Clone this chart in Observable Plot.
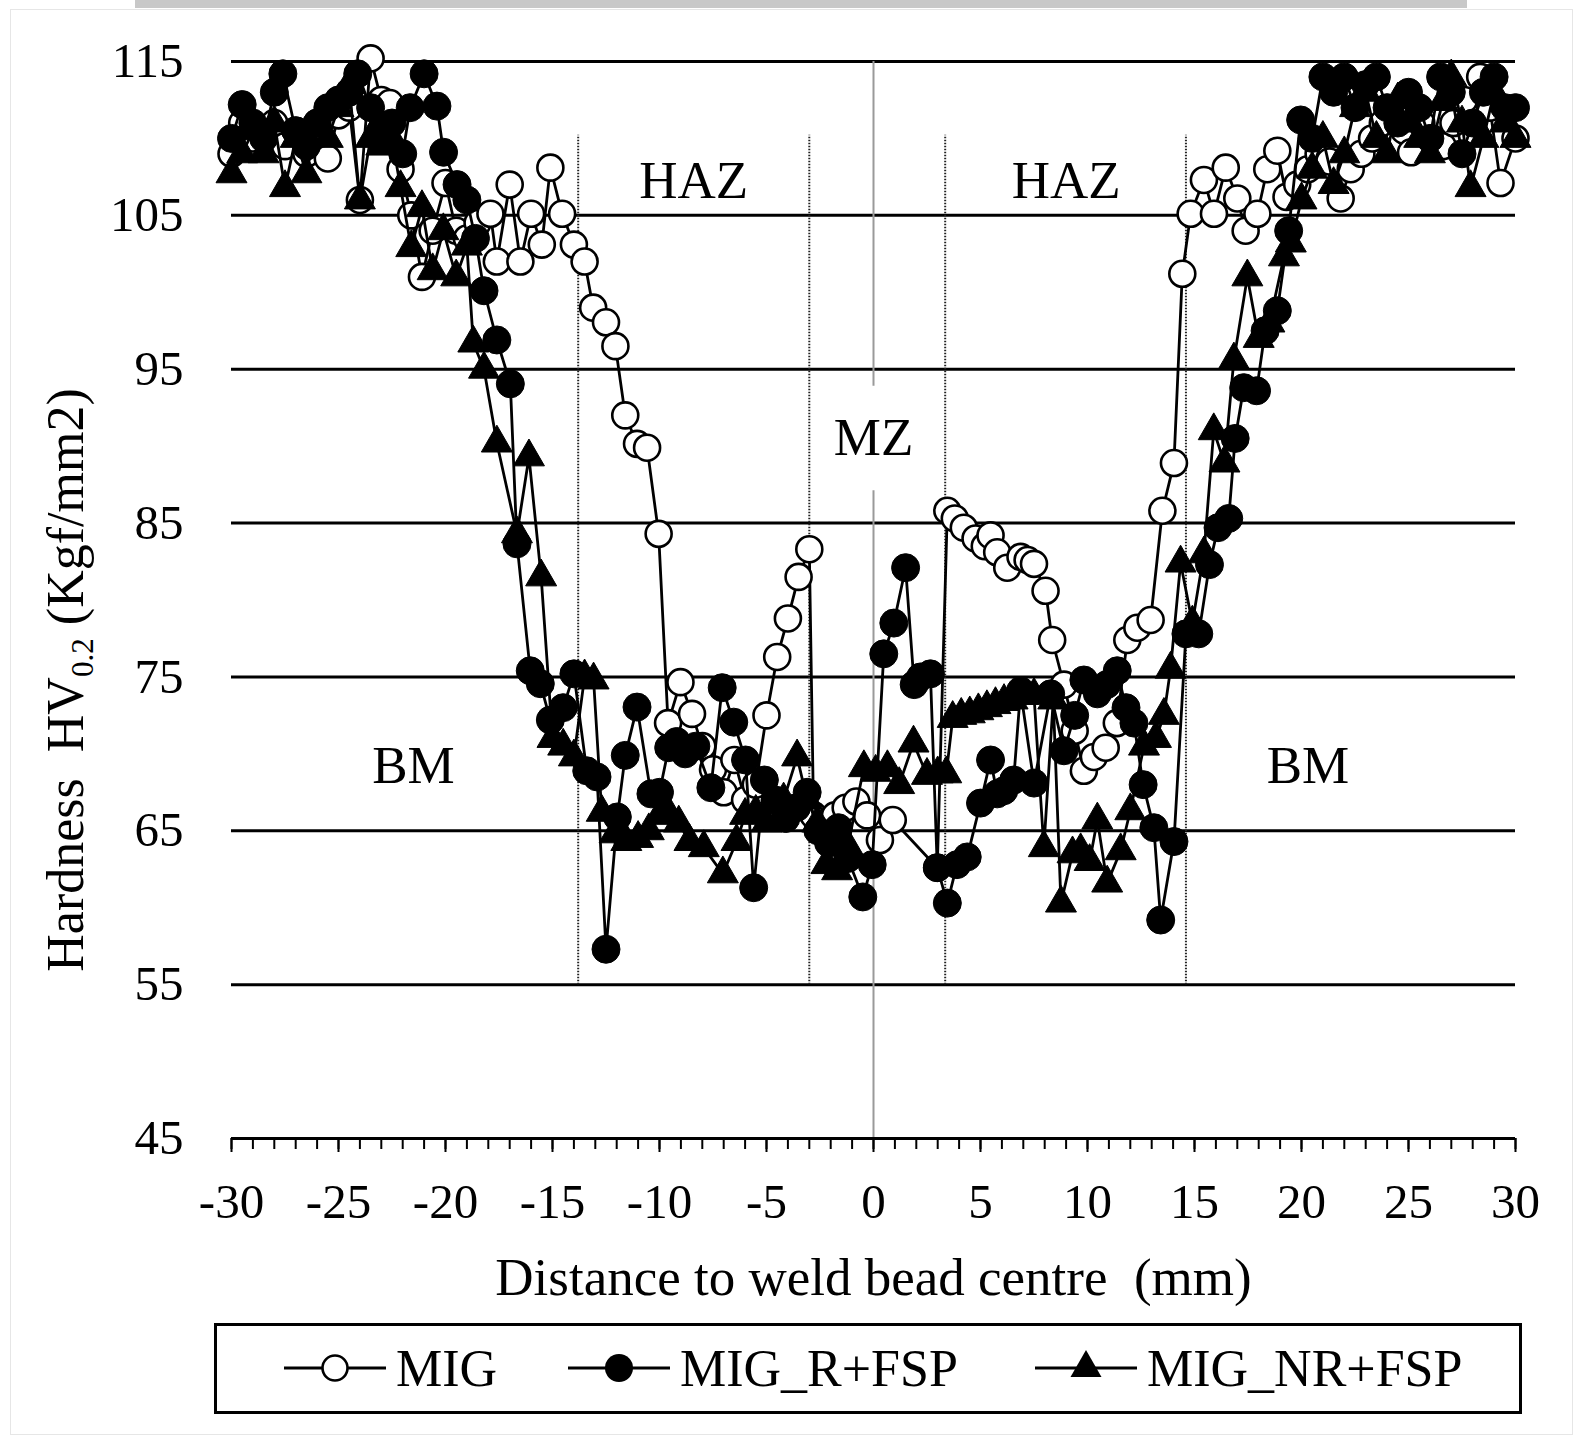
<!DOCTYPE html>
<html><head><meta charset="utf-8">
<script src="https://cdn.jsdelivr.net/npm/d3@7"></script>
<script src="https://cdn.jsdelivr.net/npm/@observablehq/plot@0.6"></script>
<style>
body{margin:0;background:#fff;}
#wrap{position:relative;width:1591px;height:1441px;overflow:hidden;background:#fff;font-family:"Liberation Serif","Times New Roman",serif;}
#topbar{position:absolute;left:135px;top:0;width:1332px;height:8px;background:#c8c8c8;}
#frame{position:absolute;left:10px;top:9px;width:1561px;height:1424px;border:1px solid #e6e6e6;}
#chart{position:absolute;left:0;top:0;}
#legend{position:absolute;left:214px;top:1323px;width:1302px;height:85px;border:3px solid #000;}
svg text{white-space:pre;}
</style></head><body>
<div id="wrap"><div id="topbar"></div><div id="frame"></div><div id="chart"></div><div id="legend"></div></div>
<script>
// ---- data (distance mm, hardness HV0.2) ----
const seriesNames = ["MIG", "MIG_R+FSP", "MIG_NR+FSP"];
const migPoints = [[-30,109],[-29.5,111],[-29,110],[-28.5,110.5],[-28,111],[-27.5,109.5],[-27,110.5],[-26.5,109],[-26,111],[-25.5,108.7],[-25,111.5],[-24.5,112],[-24,106],[-23.5,115.2],[-23,112.5],[-22.6,112.3],[-22.1,108],[-21.6,105],[-21.1,101],[-20.6,104],[-20,107.1],[-19.5,104],[-19,103.5],[-18.5,104.5],[-17.9,105.1],[-17.6,102],[-17,107],[-16.5,102],[-16,105.1],[-15.5,103.1],[-15.1,108.1],[-14.55,105.1],[-14,103.1],[-13.5,102],[-13.1,99],[-12.5,98.05],[-12.06,96.5],[-11.6,92],[-11.05,90.15],[-10.58,89.9],[-10.04,84.3],[-9.6,72],[-9.02,74.66],[-8.48,72.6],[-8,70.5],[-7.5,69],[-7,67.5],[-6.5,69.6],[-6,67],[-5.5,68],[-5,72.5],[-4.5,76.3],[-4,78.8],[-3.5,81.5],[-3,83.3],[-2.8,66],[-2.3,65.5],[-1.8,66],[-1.3,66.5],[-0.8,66.9],[-0.3,66],[0.3,64.4],[0.9,65.7],[2.98,62.6],[3.45,85.8],[3.8,85.3],[4.22,84.7],[4.77,84],[5.2,83.5],[5.47,84.2],[5.78,83.1],[6.25,82.1],[6.87,82.8],[7.2,82.6],[7.5,82.35],[8.04,80.6],[8.35,77.4],[8.9,74.5],[9.4,71.5],[9.83,68.9],[10.3,69.8],[10.85,70.4],[11.37,72],[11.86,77.4],[12.33,78.2],[12.95,78.7],[13.5,85.8],[14.04,88.9],[14.43,101.2],[14.82,105.1],[15.44,107.3],[15.91,105.1],[16.46,108.1],[17,106.1],[17.39,104],[17.94,105.1],[18.4,108],[18.87,109.2],[19.3,106.2],[19.8,107],[20.3,108],[20.8,109],[21.3,108.5],[21.83,106.1],[22.3,108],[22.8,109],[23.3,110],[23.8,111],[24.3,109.5],[24.8,110.5],[25.12,109.1],[25.6,111],[26.1,110],[26.6,109.5],[27.1,111],[27.6,112.5],[28.35,114],[28.8,112],[29.3,107.1],[30,110]];
const migRPoints = [[-30,110],[-29.5,112.2],[-29,111],[-28.5,110],[-28,113],[-27.6,114.2],[-27,110.5],[-26.5,109.5],[-26,111],[-25.5,112],[-25,112.5],[-24.5,113],[-24.1,114.2],[-23.5,112],[-23,110.5],[-22.5,111],[-22,109],[-21.65,112],[-21,114.2],[-20.4,112.1],[-20.09,109.1],[-19.46,107],[-19,106],[-18.6,103.5],[-18.2,100.1],[-17.6,96.9],[-16.97,94.05],[-16.66,83.65],[-16.04,75.4],[-15.57,74.56],[-15.1,72.2],[-14.5,73],[-14,75.2],[-13.4,68.9],[-12.92,68.5],[-12.5,57.3],[-11.97,65.9],[-11.6,69.9],[-11.05,73.04],[-10.4,67.4],[-10,67.5],[-9.57,70.4],[-9.2,70.8],[-8.8,70],[-8.3,70.5],[-7.6,67.8],[-7.07,74.3],[-6.53,72.06],[-5.98,69.6],[-5.6,61.3],[-5.1,68.3],[-4.6,67],[-4.1,65.8],[-3.6,66.5],[-3.1,67.5],[-2.6,65],[-2.1,64.2],[-1.64,65.2],[-1.2,63.2],[-0.5,60.7],[-0.06,62.8],[0.48,76.5],[0.95,78.5],[1.5,82.1],[1.9,74.5],[2.2,75],[2.66,75.2],[2.98,62.6],[3.45,60.3],[3.9,62.8],[4.38,63.3],[5,66.8],[5.47,69.6],[5.78,67.4],[6.09,67.6],[6.55,68.3],[6.87,74.1],[7.5,68.1],[8.28,73.9],[8.9,70.2],[9.4,72.5],[9.83,74.8],[10.46,73.9],[10.9,74.5],[11.39,75.4],[11.8,73],[12.17,72],[12.6,68],[13.1,65.2],[13.42,59.2],[14.04,64.3],[14.6,77.8],[15.2,77.8],[15.7,82.3],[16.1,84.7],[16.6,85.3],[16.9,90.5],[17.3,93.8],[17.9,93.6],[18.3,97.5],[18.87,98.8],[19.4,104],[19.96,111.2],[20.5,110],[21,114],[21.5,113],[22,114],[22.5,112],[23,113.5],[23.5,114],[24,112],[24.5,111],[25,113],[25.5,112],[26,110],[26.5,114],[27,113],[27.5,109],[28,111],[28.5,113],[29,114],[29.5,112],[30,112]];
const migNRPoints = [[-30,107.7],[-29.5,109],[-29,110.5],[-28.5,109],[-28,111],[-27.5,106.8],[-27,110],[-26.5,107.7],[-26,111],[-25.5,110],[-25,112],[-24.5,113.5],[-24,106],[-23.5,110],[-23,109.5],[-22.5,110],[-22.1,106.8],[-21.6,102.9],[-21.1,105.5],[-20.6,101.4],[-20.1,104],[-19.5,101],[-19,103],[-18.7,96.7],[-18.2,95],[-17.6,90.2],[-16.66,84.3],[-16.1,89.3],[-15.53,81.5],[-15,71],[-14.5,70.5],[-14,69.8],[-13.5,75],[-13.08,74.8],[-12.7,66.2],[-12.1,64.8],[-11.55,64.3],[-11,64.5],[-10.5,65],[-10,66],[-9.6,66.2],[-9.1,65.5],[-8.6,64.3],[-7.93,63.9],[-7.04,62.2],[-6.4,64.3],[-6,66],[-5.5,66.2],[-5,65.5],[-4.7,66.8],[-4.2,67],[-3.57,69.8],[-3.1,67],[-2.63,65.5],[-2.2,62.8],[-1.7,62.4],[-1.2,64],[-0.45,69.1],[0.1,68.8],[0.65,69.1],[1.2,68],[1.87,70.7],[2.5,68.6],[3,68.7],[3.4,68.7],[3.7,72.3],[4.1,72.5],[4.5,72.6],[4.9,72.8],[5.3,73],[5.7,73.2],[6.1,73.4],[6.5,73.5],[7,73.8],[7.5,73.8],[7.96,63.9],[8.4,73.5],[8.76,60.3],[9.3,63.5],[9.68,63.7],[10.1,63],[10.46,65.7],[10.92,61.6],[11.55,63.7],[12,66.3],[12.64,70.5],[13.2,71],[13.57,72.5],[13.88,75.5],[14.35,82.4],[14.9,78.5],[15.44,83],[15.9,91],[16.4,88.9],[16.84,95.6],[17.47,101],[18,97],[18.5,98],[19.18,102.3],[19.5,103.2],[20,106],[20.5,108],[21,110],[21.5,107],[22,109],[22.5,112],[23,113],[23.5,110],[24,109],[24.5,112.5],[25,111],[25.5,110],[26,109],[26.6,112.4],[27,114],[27.5,111],[27.9,106.8],[28.5,110],[29,113],[29.5,111],[30,110]];

const gridValues = [55, 65, 75, 85, 95, 105, 115];
const yTickValues = [45, 55, 65, 75, 85, 95, 105, 115];
const xTickValues = [-30, -25, -20, -15, -10, -5, 0, 5, 10, 15, 20, 25, 30];
const xMinorTicks = d3.range(-30, 31, 1);
const zoneBounds = [-13.8, -3.0, 3.35, 14.6];
const zoneLabels = ["HAZ", "HAZ", "MZ", "BM", "BM"];
const zoneLabelX = [-8.4, 9.0, 0, -21.5, 20.3];
const zoneLabelY = [107.2, 107.2, 90.5, 69.2, 69.2];
const xTitle = "Distance to weld bead centre  (mm)";
const yTitle = "Hardness  HV0.2 (Kgf/mm2)";

const toRows = pts => pts.map(([x, y]) => ({x, y}));
const mig = toRows(migPoints), migR = toRows(migRPoints), migNR = toRows(migNRPoints);
const fmt = d => d < 0 ? "-" + Math.abs(d) : String(d);
const FONT = "'Liberation Serif','Times New Roman',serif";

const chart = Plot.plot({
  width: 1591, height: 1310,
  marginLeft: 231, marginRight: 76, marginTop: 61, marginBottom: 172,
  x: {domain: [-30, 30], label: null},
  y: {domain: [45, 115], label: null},
  style: {fontFamily: FONT, background: "transparent", color: "#000", overflow: "visible"},
  marks: [
    Plot.ruleY(gridValues, {x1: -30, x2: 30, stroke: "#000", strokeWidth: 3}),
    Plot.ruleX([0], {y1: 115, y2: 93.9, stroke: "#9a9a9a", strokeWidth: 2}),
    Plot.ruleX([0], {y1: 87.1, y2: 45, stroke: "#9a9a9a", strokeWidth: 2}),
    Plot.ruleX(zoneBounds, {y1: 55, y2: 110.2, stroke: "#222", strokeWidth: 2, strokeDasharray: "1.5,1.5"}),
    Plot.axisY({ticks: yTickValues, tickSize: 0, tickPadding: 48, fontSize: 49, tickFormat: d => String(d)}),
    Plot.axisX({ticks: xMinorTicks, tickSize: 11, strokeWidth: 2, tickFormat: () => ""}),
    Plot.axisX({ticks: xTickValues, tickSize: 14, strokeWidth: 2, tickPadding: 31, fontSize: 49, tickFormat: fmt}),
    Plot.ruleY([45], {x1: -30, x2: 30, stroke: "#000", strokeWidth: 3}),
    Plot.line(mig, {x: "x", y: "y", stroke: "#000", strokeWidth: 2.8}),
    Plot.dot(mig, {x: "x", y: "y", r: 13, fill: "#fff", stroke: "#000", strokeWidth: 2.6}),
    Plot.line(migR, {x: "x", y: "y", stroke: "#000", strokeWidth: 2.8}),
    Plot.dot(migR, {x: "x", y: "y", r: 14, fill: "#000", stroke: "#000", strokeWidth: 1}),
    Plot.line(migNR, {x: "x", y: "y", stroke: "#000", strokeWidth: 2.8}),
    Plot.dot(migNR, {x: "x", y: "y", symbol: "triangle", r: 11.5, fill: "#000", stroke: "#000", strokeWidth: 1}),
    Plot.text(zoneLabels, {x: zoneLabelX, y: zoneLabelY, text: d => d, fontSize: 53, fill: "#000"}),
    Plot.text([xTitle], {frameAnchor: "bottom", dy: 140, text: d => d, fontSize: 53, lineAnchor: "middle", textAnchor: "middle"}),
    Plot.text([yTitle], {frameAnchor: "left", dx: -165, dy: 80, rotate: -90, text: d => d, fontSize: 52, lineAnchor: "middle", textAnchor: "middle"})
  ]
});
document.getElementById("chart").appendChild(chart);

// subscript in y-axis title
d3.select(chart).selectAll("text").filter(function() { return this.textContent === yTitle; })
  .each(function() {
    const t = d3.select(this);
    t.text(null);
    t.append("tspan").text("Hardness  HV");
    t.append("tspan").attr("font-size", "60%").attr("dy", "0.3em").text("0.2");
    t.append("tspan").attr("dy", "-0.18em").text(" (Kgf/mm2)");
  });

// legend below the plot
const leg = d3.select("#legend").append("svg").attr("width", 1302).attr("height", 85)
  .style("font-family", FONT);
const legItems = [
  {name: seriesNames[0], x0: 67, kind: "open"},
  {name: seriesNames[1], x0: 351, kind: "filled"},
  {name: seriesNames[2], x0: 818, kind: "tri"}
];
const cy = 42;
legItems.forEach(it => {
  leg.append("line").attr("x1", it.x0).attr("x2", it.x0 + 102).attr("y1", cy).attr("y2", cy)
    .attr("stroke", "#000").attr("stroke-width", 3);
  const cx = it.x0 + 51;
  if (it.kind === "open") {
    leg.append("circle").attr("cx", cx).attr("cy", cy).attr("r", 12.5).attr("fill", "#fff").attr("stroke", "#000").attr("stroke-width", 2.6);
  } else if (it.kind === "filled") {
    leg.append("circle").attr("cx", cx).attr("cy", cy).attr("r", 14).attr("fill", "#000");
  } else {
    leg.append("path").attr("transform", `translate(${cx},${cy})`)
      .attr("d", d3.symbol(d3.symbolTriangle, Math.PI * 11.5 * 11.5)()).attr("fill", "#000");
  }
  leg.append("text").attr("x", it.x0 + 112).attr("y", cy + 18).attr("font-size", 52).text(it.name);
});
</script></body></html>
